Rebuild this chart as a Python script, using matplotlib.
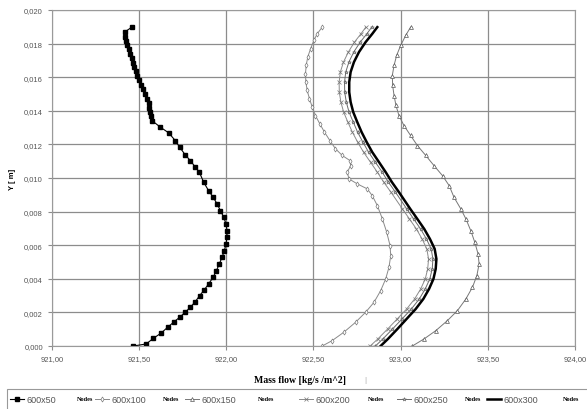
import matplotlib
matplotlib.use('Agg')
import matplotlib.pyplot as plt
from matplotlib.ticker import FuncFormatter, MultipleLocator
from matplotlib.patches import Rectangle

# mass flow [kg/s/m^2] against Y [m]
y_50 = [0.01898, 0.01868, 0.01839, 0.01813, 0.01789, 0.01765, 0.01740, 0.01714, 0.01686,
        0.01660, 0.01634, 0.01607, 0.01581, 0.01555, 0.01527, 0.01501, 0.01471, 0.01446,
        0.01418, 0.01392, 0.01368, 0.01342, 0.01303, 0.01269, 0.01223, 0.01184, 0.01138,
        0.01104, 0.01065, 0.01035, 0.00975, 0.00925, 0.00886, 0.00846, 0.00806, 0.00767,
        0.00727, 0.00687, 0.00648, 0.00608, 0.00568, 0.00528, 0.00489, 0.00449, 0.00409,
        0.00369, 0.00335, 0.00300, 0.00264, 0.00230, 0.00201, 0.00171, 0.00141, 0.00111,
        0.00077, 0.00046, 0.00012, 0.0]
mf_50 = [921.458, 921.416, 921.420, 921.425, 921.433, 921.441, 921.448, 921.458, 921.467,
         921.473, 921.481, 921.490, 921.498, 921.510, 921.521, 921.533, 921.544, 921.554,
         921.559, 921.563, 921.567, 921.573, 921.621, 921.669, 921.707, 921.732, 921.764,
         921.793, 921.822, 921.845, 921.870, 921.898, 921.924, 921.947, 921.966, 921.985,
         921.998, 922.004, 922.004, 921.998, 921.989, 921.975, 921.960, 921.943, 921.924,
         921.898, 921.874, 921.847, 921.822, 921.793, 921.764, 921.732, 921.697, 921.663,
         921.626, 921.582, 921.540, 921.467]

y_100 = [0.01898, 0.01858, 0.01819, 0.01769, 0.01720, 0.01670, 0.01620, 0.01571, 0.01521,
         0.01471, 0.01422, 0.01372, 0.01323, 0.01273, 0.01223, 0.01174, 0.01134, 0.01104,
         0.01074, 0.01035, 0.00995, 0.00965, 0.00935, 0.00895, 0.00836, 0.00757, 0.00677,
         0.00598, 0.00538, 0.00469, 0.00399, 0.00329, 0.00260, 0.00201, 0.00141, 0.00082,
         0.00032, 0.0]
mf_100 = [922.550, 922.521, 922.502, 922.483, 922.467, 922.458, 922.454, 922.456, 922.464,
          922.477, 922.493, 922.511, 922.536, 922.563, 922.594, 922.626, 922.665, 922.709,
          922.713, 922.694, 922.703, 922.751, 922.809, 922.837, 922.866, 922.895, 922.920,
          922.939, 922.943, 922.933, 922.914, 922.885, 922.847, 922.799, 922.741, 922.674,
          922.607, 922.550]

y_150 = [0.01898, 0.01849, 0.01789, 0.01730, 0.01670, 0.01610, 0.01551, 0.01491, 0.01432,
         0.01372, 0.01312, 0.01253, 0.01193, 0.01134, 0.01074, 0.01014, 0.00955, 0.00885,
         0.00816, 0.00757, 0.00687, 0.00618, 0.00548, 0.00489, 0.00419, 0.00350, 0.00280,
         0.00211, 0.00151, 0.00091, 0.00042, 0.0]
mf_150 = [923.057, 923.029, 923.000, 922.977, 922.962, 922.952, 922.954, 922.962, 922.973,
          922.990, 923.019, 923.057, 923.096, 923.144, 923.191, 923.240, 923.278, 923.306,
          923.345, 923.374, 923.402, 923.425, 923.444, 923.450, 923.437, 923.412, 923.374,
          923.326, 923.268, 923.201, 923.134, 923.067]

y_300 = [0.01898, 0.01858, 0.01809, 0.01750, 0.01690, 0.01631, 0.01571, 0.01511, 0.01452,
         0.01392, 0.01333, 0.01273, 0.01214, 0.01154, 0.01094, 0.01035, 0.00975, 0.00916,
         0.00816, 0.00757, 0.00697, 0.00637, 0.00578, 0.00518, 0.00459, 0.00399, 0.00340,
         0.00280, 0.00220, 0.00161, 0.00101, 0.00042, 0.0]
mf_300 = [922.866, 922.837, 922.799, 922.761, 922.732, 922.713, 922.705, 922.705, 922.713,
          922.728, 922.751, 922.776, 922.805, 922.837, 922.876, 922.914, 922.950, 922.990,
          923.055, 923.095, 923.135, 923.168, 923.195, 923.205, 923.201, 923.188, 923.163,
          923.130, 923.086, 923.034, 922.981, 922.927, 922.885]

y_200 = y_300
mf_200 = [922.800, 922.772, 922.735, 922.700, 922.672, 922.654, 922.647, 922.648, 922.657,
          922.673, 922.697, 922.723, 922.753, 922.787, 922.827, 922.866, 922.903, 922.944,
          923.010, 923.050, 923.090, 923.123, 923.150, 923.160, 923.155, 923.141, 923.115,
          923.080, 923.034, 922.980, 922.925, 922.869, 922.825]

y_250 = y_300
mf_250 = [922.834, 922.806, 922.768, 922.731, 922.703, 922.685, 922.678, 922.679, 922.688,
          922.704, 922.728, 922.753, 922.783, 922.816, 922.855, 922.894, 922.930, 922.970,
          923.035, 923.074, 923.114, 923.148, 923.175, 923.185, 923.181, 923.167, 923.141,
          923.107, 923.061, 923.008, 922.953, 922.898, 922.855]

labels = ['600x50', '600x100', '600x150', '600x200', '600x250', '600x300']

plt.rcParams['font.family'] = ['Liberation Sans', 'DejaVu Sans']

W, H = 587, 410
fig = plt.figure(figsize=(W / 100, H / 100), dpi=100)
ax = fig.add_axes([52 / W, 1 - 347 / H, 523 / W, 336 / H])

grey = '#8a8a8a'
lines = []
lines += ax.plot(mf_50, y_50, color='black', lw=0.8, marker='s', ms=3, mfc='black', mec='black')
lines += ax.plot(mf_100, y_100, color=grey, lw=0.7, marker='d', ms=2.6, mfc='white', mec='#7a7a7a', mew=0.5)
lines += ax.plot(mf_150, y_150, color='#777777', lw=0.7, marker='^', ms=2.8, mfc='white', mec='#555555', mew=0.5)
lines += ax.plot(mf_200, y_200, color=grey, lw=0.7, marker='x', ms=2.6, mec='#777777', mew=0.5)
lines += ax.plot(mf_250, y_250, color='#6a6a6a', lw=0.7, marker='*', ms=2.8, mec='#606060', mfc='#bbbbbb', mew=0.4)
lines += ax.plot(mf_300, y_300, color='black', lw=1.8)

ax.set_xlim(921, 924)
ax.set_ylim(0, 0.020)
ax.xaxis.set_major_locator(MultipleLocator(0.5))
ax.yaxis.set_major_locator(MultipleLocator(0.002))
ax.xaxis.set_major_formatter(FuncFormatter(lambda v, p: f'{v:.2f}'.replace('.', ',')))
ax.yaxis.set_major_formatter(FuncFormatter(lambda v, p: f'{v:.3f}'.replace('.', ',')))
ax.grid(True, color='#8c8c8c', lw=0.9)
for s in ax.spines.values():
    s.set_color('#9a9a9a')
ax.tick_params(labelsize=5.5, labelcolor='#555555', color='#8c8c8c', length=3, width=0.8)

ax.set_ylabel('Y [ m]', fontweight='bold', fontsize=5.5, labelpad=6)
fig.text(300 / W, 1 - 381 / H, 'Mass flow [kg/s /m^2]', family='Liberation Serif',
         fontweight='bold', fontsize=7, ha='center', va='center')
fig.text(365 / W, 1 - 381 / H, '|', fontsize=6, color='#aaaaaa', ha='center', va='center')

# legend strip below the axes
fig.add_artist(Rectangle((7 / W, -0.02), 0.99, (0.02 + 1 - 390 / H), transform=fig.transFigure,
                         fill=False, edgecolor='#999999', lw=0.8, clip_on=False))
entry_x = [10, 95, 185, 299, 397, 487]
nodes_x = [77, 163, 258, 368, 465, 563]
for ln, lab, ex, nx in zip(lines, labels, entry_x, nodes_x):
    leg = fig.legend(handles=[ln], labels=[lab], loc='center left', bbox_to_anchor=(ex / W, 1 - 401 / H),
                     frameon=False, fontsize=6.5, handlelength=1.6, handletextpad=0.2, borderpad=0,
                     borderaxespad=0)
    leg.get_texts()[0].set_color('#555555')
    fig.text(nx / W, 1 - 400 / H, 'Nodes', family='Liberation Serif', fontweight='bold',
             fontsize=4.5, va='center', zorder=10)

fig.savefig('out.png', dpi=100)
